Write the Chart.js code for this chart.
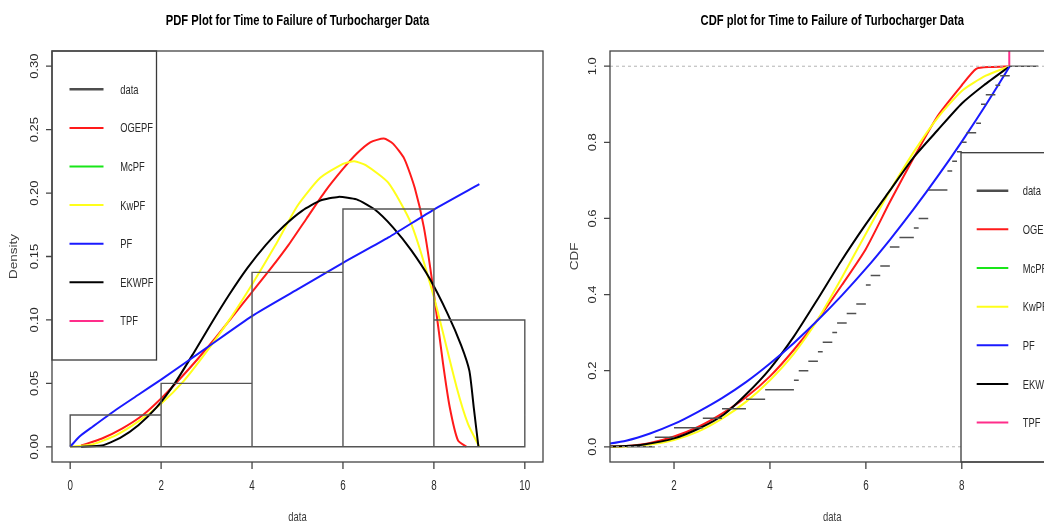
<!DOCTYPE html>
<html>
<head>
<meta charset="utf-8">
<script src="https://cdn.jsdelivr.net/npm/chart.js@4.4.1/dist/chart.umd.min.js"></script>
<style>
  html, body { margin:0; padding:0; background:#fff; }
  body { width:1044px; height:525px; overflow:hidden; position:relative; }
  #pdfChart { position:absolute; left:0; top:0; }
  #cdfChart { position:absolute; left:560px; top:0; }
</style>
</head>
<body>
<canvas id="pdfChart" width="560" height="525"></canvas>
<canvas id="cdfChart" width="520" height="525"></canvas>
<script>
// ---- data ----
const legendLabels = ['data','OGEPF','McPF','KwPF','PF','EKWPF','TPF'];
const legendColors = ['#4d4d4d','#ff1a1a','#19e619','#ffff1a','#1a1aff','#000000','#ff2d8a'];

// histogram (density scale)
const binEdges = [0,2,4,6,8,10];
const binDensity = [0.025,0.05,0.1375,0.1875,0.1];

// fitted PDFs
const ogepfPdfX = [0.24,0.7,1.15,1.6,2.0,2.4,2.8,3.2,3.6,4.0,4.4,4.8,5.2,5.6,6.0,6.3,6.6,6.9,7.1,7.35,7.58,7.78,7.98,8.2,8.35,8.53,8.72];
const ogepfPdfY = [0.001,0.0065,0.0145,0.025,0.038,0.053,0.069,0.086,0.104,0.122,0.14,0.159,0.18,0.201,0.219,0.231,0.24,0.243,0.239,0.227,0.204,0.173,0.126,0.066,0.031,0.005,0.0];
const kwpfPdfX = [0,0.5,1,1.5,2,2.5,3,3.5,4,4.5,5,5.5,6,6.25,6.5,7,7.5,8,8.5,8.75,9];
const kwpfPdfY = [0,0.002,0.009,0.02,0.034,0.052,0.075,0.1,0.128,0.158,0.19,0.212,0.223,0.225,0.222,0.208,0.176,0.118,0.047,0.018,0];
const ekwpfPdfX = [0.24,0.7,1.1,1.5,1.9,2.3,2.7,3.1,3.5,3.9,4.3,4.7,5.1,5.5,5.9,6.3,6.7,7.1,7.5,7.9,8.3,8.6,8.78,8.88,8.98];
const ekwpfPdfY = [0,0.001,0.007,0.017,0.031,0.05,0.073,0.097,0.12,0.141,0.159,0.174,0.186,0.194,0.197,0.195,0.187,0.173,0.155,0.133,0.105,0.08,0.06,0.03,0];
const pfPdfX = [0,0.2,0.5,1,1.5,2,3,4,5,6,7,8,9];
const pfPdfY = [0,0.008,0.016,0.029,0.041,0.053,0.078,0.103,0.124,0.145,0.165,0.187,0.207];

// empirical CDF steps (knots and levels)
const ecdfKnots = [1.6,2.0,2.6,3.0,3.5,3.9,4.5,4.6,4.8,5.0,5.1,5.3,5.4,5.6,5.8,6.0,6.1,6.3,6.5,6.7,7.0,7.1,7.3,7.7,7.8,7.9,8.0,8.1,8.3,8.4,8.5,8.7,8.8,9.0];
const ecdfLevels = [0.025,0.05,0.075,0.1,0.125,0.15,0.175,0.2,0.225,0.25,0.275,0.3,0.325,0.35,0.375,0.425,0.45,0.475,0.525,0.55,0.575,0.6,0.675,0.725,0.75,0.775,0.8,0.825,0.85,0.9,0.925,0.95,0.975,1.0];
const ecdfFrom = 1.008, ecdfTo = 9.592;

// fitted CDFs
const ogepfCdfX = [0.5,1.0,1.5,2.0,2.5,3.0,3.5,4.0,4.5,5.0,5.5,6.0,6.5,7.0,7.5,8.0,8.3,8.6,9.0];
const ogepfCdfY = [0,0.002,0.01,0.027,0.052,0.087,0.13,0.185,0.255,0.335,0.425,0.52,0.643,0.76,0.87,0.95,0.993,0.998,1.0];
const kwpfCdfX = [0.5,1,1.5,2,2.5,3,3.5,4,4.5,5,5.5,6,6.5,7,7.5,8,8.5,9];
const kwpfCdfY = [0,0.001,0.006,0.018,0.04,0.074,0.118,0.175,0.245,0.335,0.445,0.56,0.672,0.775,0.865,0.935,0.975,1.0];
const ekwpfCdfX = [0.5,1.0,1.37,2.0,2.55,3.04,3.52,4.0,4.5,4.98,5.47,6.0,6.51,7.0,7.49,8.0,8.46,9.0];
const ekwpfCdfY = [0,0.002,0.006,0.022,0.05,0.085,0.14,0.205,0.29,0.385,0.485,0.585,0.675,0.761,0.831,0.902,0.95,1.0];
const pfCdfX = [0.5,1,1.5,2,2.5,3,3.5,4,4.5,5,5.5,6,6.5,7,7.5,8,8.5,9];
const pfCdfY = [0.005,0.016,0.035,0.06,0.092,0.128,0.17,0.219,0.273,0.333,0.398,0.468,0.544,0.625,0.711,0.802,0.898,1.0];
const tpfCdfX = [9.0,8.99];
const tpfCdfY = [1.0,1.1];
const cdfRefLevels = [0,1];

// ticks
const pdfXTicks = [0,2,4,6,8,10];
const pdfYTicks = [0,0.05,0.10,0.15,0.20,0.25,0.30];
const pdfYTickLabels = ['0.00','0.05','0.10','0.15','0.20','0.25','0.30'];
const cdfXTicks = [2,4,6,8];
const cdfYTicks = [0,0.2,0.4,0.6,0.8,1.0];
const cdfYTickLabels = ['0.0','0.2','0.4','0.6','0.8','1.0'];

// ---- helpers ----
const pts = (xs, ys) => xs.map((x, i) => ({x: x, y: ys[i]}));
function histOutline(edges, dens){
  const out = [{x: edges[0], y: 0}];
  dens.forEach((d, i) => {
    out.push({x: edges[i], y: d}, {x: edges[i+1], y: d}, {x: edges[i+1], y: 0});
  });
  out.push({x: edges[0], y: 0});
  return out;
}
function stepSegments(knots, levels, from, to){
  const xs = [from].concat(knots, [to]);
  const ys = [0].concat(levels);
  const out = [];
  for(let i = 0; i < ys.length; i++){
    out.push({x: xs[i], y: ys[i]}, {x: xs[i+1], y: ys[i]}, {x: xs[i+1], y: null});
  }
  return out;
}
const line = (data, color, extra) => Object.assign({
  data: data, borderColor: color, borderWidth: 2, pointRadius: 0, tension: 0, fill: false
}, extra || {});
// fitted curves get a light smoothing between the read points
const curve = (data, color) => line(data, color, {tension: 0.2});

const FONT = "'Liberation Sans', Arial, Helvetica, sans-serif";
function txt(ctx, s, x, y, size, color, sx, rot, align, bold){
  ctx.save();
  ctx.translate(x, y);
  ctx.scale(sx, 1);
  if(rot) ctx.rotate(rot);
  ctx.font = (bold ? 'bold ' : '') + size + 'px ' + FONT;
  ctx.fillStyle = color;
  ctx.textAlign = align || 'center';
  ctx.textBaseline = 'middle';
  ctx.fillText(s, 0, 0);
  ctx.restore();
}

// R-style frame, ticks, titles and legend
const rFrame = {
  id: 'rFrame',
  afterDatasetsDraw(chart, args, o){
    const ctx = chart.ctx, a = chart.chartArea;
    const L = o.legend;
    const bx = L.left, by = L.top;
    const bw = (L.width === 'full') ? chart.width - bx + 5 : L.width;
    const bh = (L.bottom === 'area') ? a.bottom - by : L.height;
    ctx.save();
    ctx.fillStyle = '#fff';
    ctx.fillRect(bx, by, bw, bh);
    ctx.strokeStyle = '#3a3a3a';
    ctx.lineWidth = 1.3;
    ctx.strokeRect(bx, by, bw, bh);
    legendLabels.forEach((lab, i) => {
      const y = by + L.first + i * L.step;
      ctx.strokeStyle = legendColors[i];
      ctx.lineWidth = i === 0 ? 2.5 : 2;
      ctx.beginPath();
      ctx.moveTo(bx + L.x0, y);
      ctx.lineTo(bx + L.x1, y);
      ctx.stroke();
      txt(ctx, lab, bx + L.tx, y + 1, 13, '#2a2a2a', 0.72, 0, 'left');
    });
    ctx.restore();
  },
  afterDraw(chart, args, o){
    const ctx = chart.ctx, a = chart.chartArea;
    const xs = chart.scales.x, ys = chart.scales.y;
    ctx.save();
    ctx.strokeStyle = '#444';
    ctx.lineWidth = 1.3;
    ctx.strokeRect(a.left, a.top, a.right - a.left, a.bottom - a.top);
    // tick marks
    ctx.beginPath();
    o.xTicks.forEach(v => {
      const px = xs.getPixelForValue(v);
      ctx.moveTo(px, a.bottom);
      ctx.lineTo(px, a.bottom + 7);
    });
    o.yTicks.forEach(v => {
      const py = ys.getPixelForValue(v);
      ctx.moveTo(a.left, py);
      ctx.lineTo(a.left - 6, py);
    });
    ctx.stroke();
    o.xTicks.forEach(v => {
      txt(ctx, String(v), xs.getPixelForValue(v), a.bottom + 24, 14, '#2a2a2a', 0.7);
    });
    o.yTicks.forEach((v, i) => {
      txt(ctx, o.yLabels[i], a.left - 17, ys.getPixelForValue(v), 13, '#2a2a2a', 0.78, -Math.PI/2);
    });
    const cx = (a.left + a.right) / 2, cy = (a.top + a.bottom) / 2;
    txt(ctx, o.xTitle, cx, 517, 13.5, '#3a3a3a', 0.7);
    txt(ctx, o.yTitle, o.yTitleX, cy, 13.5, '#3a3a3a', 0.8, -Math.PI/2);
    txt(ctx, o.title, cx, 21, 14, '#000', 0.8, 0, 'center', true);
    ctx.restore();
  }
};

const baseOpts = (pad, xr, yr, frame) => ({
  responsive: false,
  animation: false,
  devicePixelRatio: 1,
  layout: {padding: pad},
  scales: {
    x: {type: 'linear', min: xr[0], max: xr[1], display: false},
    y: {type: 'linear', min: yr[0], max: yr[1], display: false}
  },
  plugins: {legend: {display: false}, tooltip: {enabled: false}, rFrame: frame}
});

// ---- PDF chart ----
new Chart(document.getElementById('pdfChart'), {
  type: 'line',
  data: {datasets: [
    line(histOutline(binEdges, binDensity), '#555', {borderWidth: 1.4}),
    curve(pts(pfPdfX, pfPdfY), legendColors[4]),
    curve(pts(ekwpfPdfX, ekwpfPdfY), legendColors[5]),
    curve(pts(kwpfPdfX, kwpfPdfY), legendColors[3]),
    curve(pts(ogepfPdfX, ogepfPdfY), legendColors[1])
  ]},
  options: baseOpts({left: 52, top: 51, right: 17, bottom: 63}, [-0.4, 10.4], [-0.012, 0.312], {
    xTicks: pdfXTicks, yTicks: pdfYTicks, yLabels: pdfYTickLabels,
    xTitle: 'data', yTitle: 'Density', yTitleX: 14,
    title: 'PDF Plot for Time to Failure of Turbocharger Data',
    legend: {left: 52, top: 51, width: 104.5, height: 309, first: 38.3, step: 38.6, x0: 17.5, x1: 51.5, tx: 68.3}
  }),
  plugins: [rFrame]
});

// ---- CDF chart ----
const cdfMin = 0.665, cdfMax = 9.935;
new Chart(document.getElementById('cdfChart'), {
  type: 'line',
  data: {datasets: cdfRefLevels.map(l => line([{x: cdfMin, y: l}, {x: cdfMax, y: l}], '#b3b3b3', {borderWidth: 1, borderDash: [3, 3]})).concat([
    line(stepSegments(ecdfKnots, ecdfLevels, ecdfFrom, ecdfTo), '#505050', {borderWidth: 1.5, spanGaps: false}),
    curve(pts(pfCdfX, pfCdfY), legendColors[4]),
    curve(pts(ekwpfCdfX, ekwpfCdfY), legendColors[5]),
    curve(pts(kwpfCdfX, kwpfCdfY), legendColors[3]),
    curve(pts(ogepfCdfX, ogepfCdfY), legendColors[1]),
    line(pts(tpfCdfX, tpfCdfY), legendColors[6])
  ])},
  options: baseOpts({left: 50, top: 51, right: 25.4, bottom: 63}, [cdfMin, cdfMax], [-0.04, 1.04], {
    xTicks: cdfXTicks, yTicks: cdfYTicks, yLabels: cdfYTickLabels,
    xTitle: 'data', yTitle: 'CDF', yTitleX: 15,
    title: 'CDF plot for Time to Failure of Turbocharger Data',
    legend: {left: 401, top: 152.7, width: 'full', bottom: 'area', first: 38, step: 38.65, x0: 15.7, x1: 47.3, tx: 61.7}
  }),
  plugins: [rFrame]
});
</script>
</body>
</html>
